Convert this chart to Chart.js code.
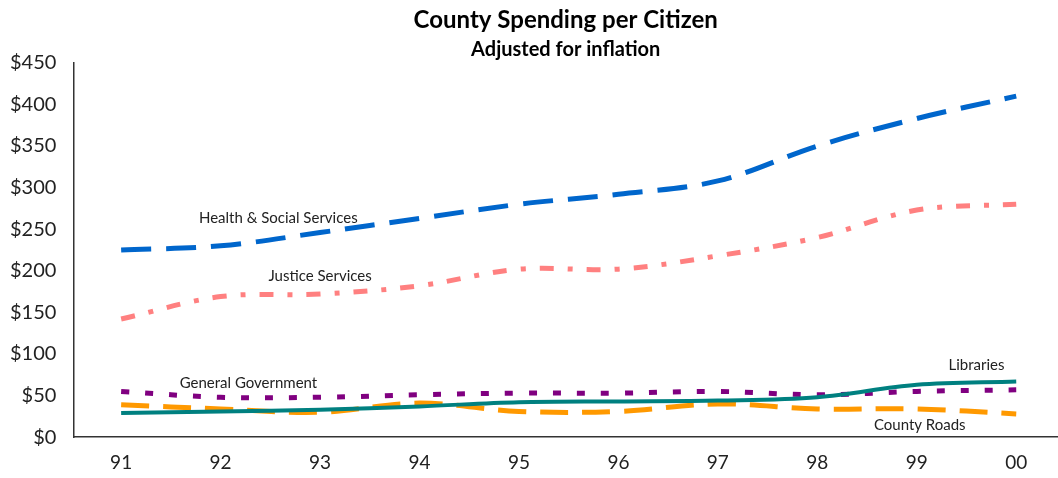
<!DOCTYPE html>
<html>
<head>
<meta charset="utf-8">
<script src="https://cdn.jsdelivr.net/npm/chart.js@4/dist/chart.umd.min.js"></script>
<style>
  html, body { margin: 0; padding: 0; background: #fff; overflow: hidden; }
  canvas { display: block; }
</style>
</head>
<body>
<canvas id="spendingChart" width="1058" height="478"></canvas>
<script>
// years and per-citizen spending (dollars, inflation adjusted)
const years = ["91", "92", "93", "94", "95", "96", "97", "98", "99", "00"];
const healthSocial = [225, 230, 246, 263, 280, 292, 308, 350, 383, 410];
const justice = [142, 169, 172, 182, 202, 202, 218, 240, 273, 280];
const generalGov = [55, 48, 48, 51, 53, 53, 55, 51, 55, 57];
const libraries = [29, 31, 33, 37, 42, 43, 44, 48, 63, 67];
const countyRoads = [39, 34, 30, 41, 31, 31, 40, 34, 34, 28];

// line labels, placed in data coordinates (year index, dollars)
const lineLabels = [
  { text: "Health & Social Services", idx: 1.58, val: 263 },
  { text: "Justice Services", idx: 2.0, val: 193 },
  { text: "General Government", idx: 1.28, val: 65 },
  { text: "Libraries", idx: 8.6, val: 87 },
  { text: "County Roads", idx: 8.03, val: 14 }
];

const fontFam = "Lato, 'Open Sans', sans-serif";

const lineLabelPlugin = {
  id: "lineLabels",
  afterDatasetsDraw(chart) {
    const ctx = chart.ctx;
    const xs = chart.scales.x, ys = chart.scales.y;
    ctx.save();
    ctx.font = "15px " + fontFam;
    ctx.fillStyle = "#222";
    ctx.textAlign = "center";
    ctx.textBaseline = "middle";
    lineLabels.forEach(l => {
      ctx.fillText(l.text, xs.getPixelForValue(l.idx), ys.getPixelForValue(l.val));
    });
    ctx.restore();
  }
};

function series(label, values, color, dash, width) {
  return {
    label,
    data: values.map((v, i) => ({ x: i, y: v })),
    borderColor: color,
    backgroundColor: color,
    borderWidth: width,
    borderDash: dash,
    borderCapStyle: "butt",
    pointRadius: 0,
    tension: 0.35,
    fill: false
  };
}

const ctx = document.getElementById("spendingChart").getContext("2d");
new Chart(ctx, {
  type: "line",
  data: {
    datasets: [
      series("Libraries", libraries, "#008080", [], 4),
      series("General Government", generalGov, "#800080", [8, 16], 5),
      series("County Roads", countyRoads, "#FF9900", [28, 14], 5),
      series("Justice Services", justice, "#FF8080", [14, 14, 5, 14], 5),
      series("Health & Social Services", healthSocial, "#0066CC", [30, 15], 5)
    ]
  },
  options: {
    responsive: false,
    animation: false,
    devicePixelRatio: 1,
    layout: { padding: { left: -7, right: 0, top: 0, bottom: -10 } },
    plugins: {
      legend: { display: false },
      tooltip: { enabled: false },
      title: {
        display: true,
        fullSize: false,
        text: "County Spending per Citizen",
        color: "#000",
        font: { family: fontFam, size: 24, weight: "bold" },
        padding: { top: 6, bottom: 2 }
      },
      subtitle: {
        display: true,
        fullSize: false,
        text: "Adjusted for inflation",
        color: "#000",
        font: { family: fontFam, size: 20, weight: "bold" },
        padding: { top: 1, bottom: 1 }
      }
    },
    scales: {
      x: {
        type: "linear",
        min: -0.48,
        max: 9.42,
        grid: { display: false, drawTicks: false },
        border: { display: true, color: "#333", width: 1.5 },
        ticks: {
          stepSize: 1,
          includeBounds: false,
          color: "#222",
          font: { family: fontFam, size: 19 },
          padding: 14,
          maxRotation: 0,
          autoSkip: false,
          callback: v => years[v] !== undefined ? years[v] : ""
        }
      },
      y: {
        min: 0,
        max: 450,
        grid: { display: false, drawTicks: false },
        border: { display: true, color: "#333", width: 1.5 },
        ticks: {
          stepSize: 50,
          color: "#222",
          font: { family: fontFam, size: 20 },
          padding: 17,
          callback: v => "$" + v
        }
      }
    }
  },
  plugins: [lineLabelPlugin]
});
</script>
</body>
</html>
